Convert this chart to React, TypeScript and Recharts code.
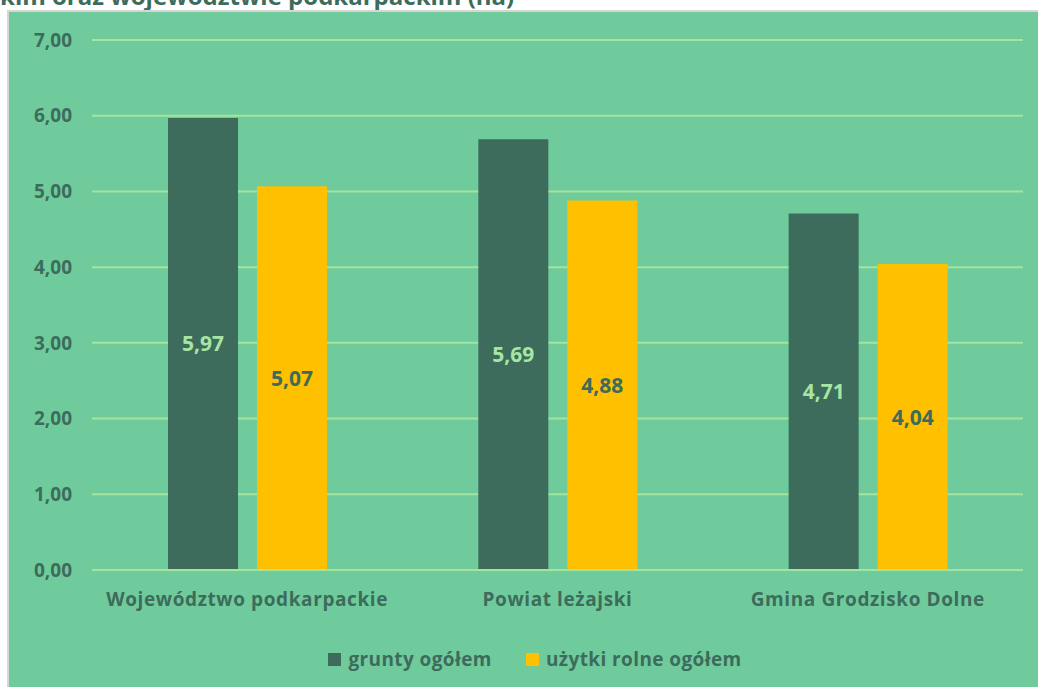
import { Bar, BarChart, CartesianGrid, LabelList, Legend, XAxis, YAxis } from "recharts";

const categories = ["Województwo podkarpackie", "Powiat leżajski", "Gmina Grodzisko Dolne"];
const gruntyOgolem = [5.97, 5.69, 4.71];
const uzytkiRolne = [5.07, 4.88, 4.04];
const yTicks = [0, 1, 2, 3, 4, 5, 6, 7];

const colors = {
	bg: "#6FCB9C",
	grid: "#A3E49E",
	dark: "#3D6B5C",
	yellow: "#FFC000",
	text: "#3D6B5C",
	lightLabel: "#A6E6A2",
};

const font = "'Open Sans', Lato, sans-serif";

const data = categories.map((name, i) => ({
	name,
	grunty: gruntyOgolem[i],
	uzytki: uzytkiRolne[i],
}));

const fmt = (v: number) => v.toFixed(2).replace(".", ",");

function LegendContent() {
	const items = [
		{ label: "grunty ogółem", color: colors.dark },
		{ label: "użytki rolne ogółem", color: colors.yellow },
	];
	return (
		<div
			style={{
				display: "flex",
				justifyContent: "center",
				gap: 34,
				paddingLeft: 38,
				fontFamily: font,
			}}
		>
			{items.map((it) => (
				<div key={it.label} style={{ display: "flex", alignItems: "center", gap: 7 }}>
					<span style={{ width: 13, height: 13, background: it.color, display: "inline-block" }} />
					<span style={{ color: colors.text, fontWeight: 700, fontSize: 19, letterSpacing: 0.4 }}>
						{it.label}
					</span>
				</div>
			))}
		</div>
	);
}

export default function App() {
	return (
		<div
			style={{
				position: "absolute",
				left: 0,
				top: 0,
				width: 1038,
				height: 687,
				background: "#fff",
				overflow: "hidden",
			}}
		>
			<div
				style={{
					position: "absolute",
					left: 0,
					top: -16,
					fontFamily: font,
					fontWeight: 700,
					fontSize: 24,
					lineHeight: "24px",
					color: colors.text,
					whiteSpace: "nowrap",
				}}
			>
				kim oraz województwie podkarpackim (ha)
			</div>
			<div
				style={{
					position: "absolute",
					left: 7,
					top: 10,
					width: 1040,
					height: 690,
					border: "2px solid #D6D6D6",
					background: colors.bg,
				}}
			>
				<BarChart
					width={1029}
					height={675}
					data={data}
					margin={{ top: 28, right: 15, left: 0, bottom: 1 }}
					barSize={70}
					barGap={19}
					barCategoryGap={75}
				>
					<CartesianGrid vertical={false} stroke={colors.grid} strokeWidth={2} />
					<XAxis
						dataKey="name"
						height={76}
						tickLine={false}
						axisLine={{ stroke: colors.grid, strokeWidth: 2 }}
						tickMargin={17}
						tick={{ fill: colors.text, fontSize: 19, fontWeight: 700, fontFamily: font, letterSpacing: 0.6 }}
					/>
					<YAxis
						width={83}
						domain={[0, 7]}
						ticks={yTicks}
						tickFormatter={fmt}
						axisLine={false}
						tickLine={false}
						tickMargin={14}
						tick={{ fill: colors.text, fontSize: 19, fontWeight: 700, fontFamily: font }}
					/>
					<Legend verticalAlign="bottom" height={40} content={<LegendContent />} />
					<Bar dataKey="grunty" name="grunty ogółem" fill={colors.dark} isAnimationActive={false}>
						<LabelList
							dataKey="grunty"
							position="center"
							formatter={(v: number) => fmt(v)}
							style={{ fill: colors.lightLabel, fontSize: 21, fontWeight: 700, fontFamily: font }}
						/>
					</Bar>
					<Bar dataKey="uzytki" name="użytki rolne ogółem" fill={colors.yellow} isAnimationActive={false}>
						<LabelList
							dataKey="uzytki"
							position="center"
							formatter={(v: number) => fmt(v)}
							style={{ fill: colors.text, fontSize: 21, fontWeight: 700, fontFamily: font }}
						/>
					</Bar>
				</BarChart>
			</div>
		</div>
	);
}
